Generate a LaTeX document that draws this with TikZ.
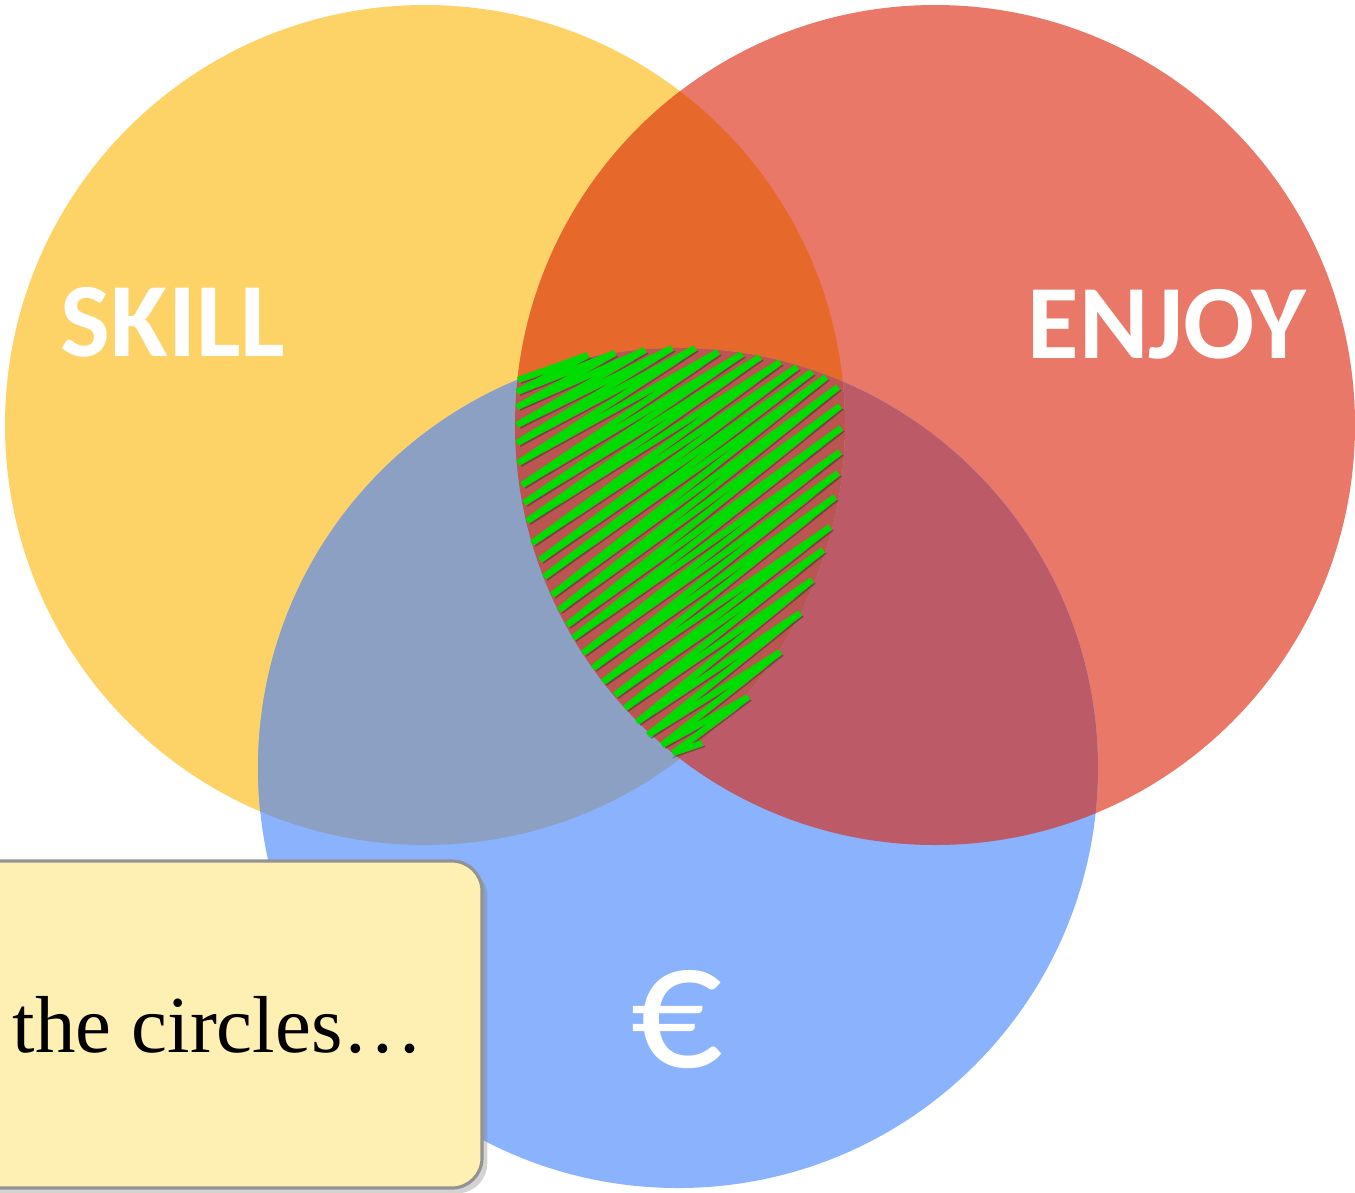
\documentclass[tikz,border=0pt]{standalone}
\usepackage{fontspec}
\setmainfont{Liberation Serif}
\newfontfamily\calibri{Carlito}
\usetikzlibrary{shadows}
\definecolor{skillyellow}{HTML}{FDD267}
\definecolor{enjoyred}{HTML}{EA7868}
\definecolor{moneyblue}{HTML}{8BB2FD}
\definecolor{skillenjoy}{HTML}{E7682B}
\definecolor{skillmoney}{HTML}{8BA0C3}
\definecolor{enjoymoney}{HTML}{BC5A67}
\definecolor{allthree}{HTML}{BA5552}
\definecolor{notefill}{HTML}{FEEFB3}
\definecolor{scribblegreen}{HTML}{00DC00}

\begin{document}
\begin{tikzpicture}[
  word/.style={text=white, font=\calibri\bfseries\fontsize{30}{34}\selectfont},
  notebox/.style={draw=gray!85, line width=0.9pt, fill=notefill, rounded corners=0.3cm,
    drop shadow={shadow xshift=1.5pt, shadow yshift=-1.5pt, opacity=0.35}},
  scribble/.style={draw=scribblegreen, line width=1.75pt, line join=bevel,
    preaction={draw=black!80, opacity=0.5, transform canvas={shift={(0.9pt,-0.9pt)}}}}
]
\useasboundingbox (0,0) rectangle (13.55,-11.92);
% Circles
\fill[skillyellow] (4.25,-4.25) circle (4.2);
\fill[enjoyred] (9.35,-4.25) circle (4.2);
\fill[moneyblue] (6.78,-7.68) circle (4.2);
% Enjoy and money
\begin{scope}
\clip (9.35,-4.25) circle (4.2);
\fill[enjoymoney] (6.78,-7.68) circle (4.2);
\end{scope}
% Skill and the others
\begin{scope}
\clip (4.25,-4.25) circle (4.2);
\fill[skillenjoy] (9.35,-4.25) circle (4.2);
\fill[skillmoney] (6.78,-7.68) circle (4.2);
\clip (9.35,-4.25) circle (4.2);
\fill[allthree] (6.78,-7.68) circle (4.2);
\end{scope}
% Scribble
\draw[scribble] (5.18,-3.80) -- (5.88,-3.55) -- (5.17,-3.92) -- (6.15,-3.53)
  -- (5.17,-4.07) -- (6.45,-3.50) -- (5.17,-4.25) -- (6.72,-3.48)
  -- (5.17,-4.43) -- (6.95,-3.48) -- (5.18,-4.63) -- (7.18,-3.52)
  -- (5.22,-4.85) -- (7.42,-3.54) -- (5.24,-5.03) -- (7.60,-3.57)
  -- (5.27,-5.21) -- (7.80,-3.62) -- (5.32,-5.43) -- (7.97,-3.67)
  -- (5.40,-5.60) -- (8.12,-3.72) -- (5.44,-5.77) -- (8.26,-3.77)
  -- (5.52,-5.95) -- (8.38,-3.87) -- (5.59,-6.10) -- (8.40,-4.06)
  -- (5.67,-6.25) -- (8.41,-4.28) -- (5.73,-6.38) -- (8.40,-4.52)
  -- (5.83,-6.53) -- (8.38,-4.73) -- (5.93,-6.68) -- (8.35,-4.97)
  -- (6.03,-6.82) -- (8.30,-5.27) -- (6.15,-6.95) -- (8.23,-5.50)
  -- (6.25,-7.08) -- (8.12,-5.80) -- (6.37,-7.22) -- (8.00,-6.13)
  -- (6.48,-7.35) -- (7.80,-6.52) -- (6.62,-7.45) -- (7.48,-6.97)
  -- (6.73,-7.53) -- (7.02,-7.43);
% Labels
\node[word] (skill) at (1.73,-3.22) {SKILL};
\node[word] (enjoy) at (11.67,-3.24) {ENJOY};
\node[text=white, font=\calibri\fontsize{52}{56}\selectfont] (money) at (6.77,-10.20) {€};
% Note
\node[notebox, minimum width=5.12cm, minimum height=3.27cm] (note) at (2.26,-10.245) {};
\node[anchor=base west, inner sep=0pt, font=\fontsize{23}{28}\selectfont] (notetext) at (0.12,-10.52) {the circles…};
\end{tikzpicture}
\end{document}
